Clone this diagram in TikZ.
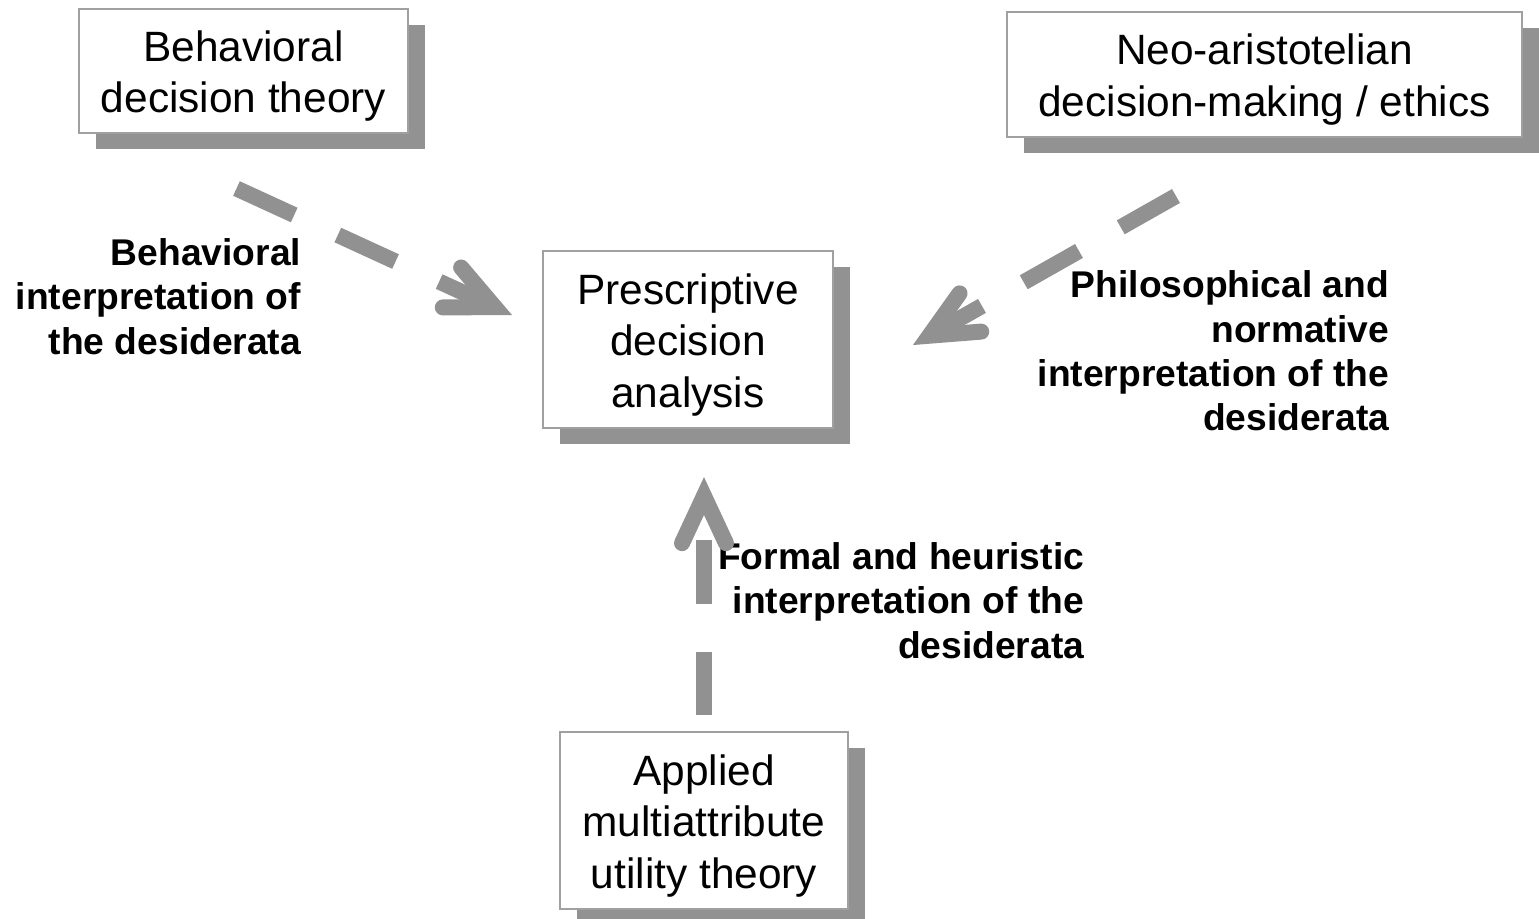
\documentclass[tikz,border=0pt]{standalone}
\usepackage{fontspec}
\setmainfont{Liberation Sans}
\usetikzlibrary{calc,shadows}
\definecolor{arrowgray}{HTML}{919191}
\definecolor{shadowgray}{HTML}{929292}
\definecolor{bordergray}{HTML}{A0A0A0}
\newcommand{\boxstrut}{\rule{0pt}{20.5pt}}
\tikzset{
  box/.style={draw=bordergray, line width=1pt, fill=white, inner sep=0pt, align=center,
    font=\fontsize{21.2pt}{25.75pt}\selectfont,
    drop shadow={shadow xshift=8.5pt, shadow yshift=-8pt, fill=shadowgray, opacity=1}},
  lbl/.style={inner sep=0pt, align=right, anchor=east,
    font=\fontsize{18.6pt}{22.2pt}\selectfont\bfseries},
  shaft/.style={draw=arrowgray, line width=8pt, dash pattern=on 31.75pt off 24pt, line cap=butt},
  head/.style={draw=arrowgray, line width=8pt, line cap=round, line join=miter}
}
\begin{document}
\begin{tikzpicture}[x=0.5pt, y=-0.5pt]
\useasboundingbox (0,0) rectangle (1539,918);

% boxes
\node[box, minimum width=164.5pt, minimum height=62pt] (bdt) at (243.5,71) {\boxstrut Behavioral\\decision theory};
\node[box, minimum width=257.5pt, minimum height=62.5pt] (neo) at (1264.5,74.5) {\boxstrut Neo-aristotelian\\decision-making / ethics};
\node[box, minimum width=145pt, minimum height=88.5pt] (pda) at (688,339.5) {\boxstrut Prescriptive\\decision\\analysis};
\node[box, minimum width=144pt, minimum height=88.5pt] (maut) at (704,820.5) {\boxstrut Applied\\multiattribute\\utility theory};

% labels
\node[lbl] (l1) at (301.5,296.5) {Behavioral\\interpretation of\\the desiderata};
\node[lbl] (l2) at (1389.5,351) {Philosophical and\\normative\\interpretation of the\\desiderata};
\node[lbl] (l3) at (1084.5,600.5) {Formal and heuristic\\interpretation of the\\desiderata};

% arrow end points
\coordinate (s1) at (236.5,188.5);
\coordinate (v1) at (494.8,307.1);
\coordinate (s2) at (1176,196);
\coordinate (v2) at (929.4,335.7);
\coordinate (s3) at (704,715);
\coordinate (v3) at (704,496);

% shafts
\draw[shaft] (s1) -- (v1);
\draw[shaft] (s2) -- (v2);
\draw[shaft] (s3) -- (v3);

% heads
\draw[head] ($(v1)!26pt!25:(s1)$) -- (v1) -- ($(v1)!26pt!-25:(s1)$);
\draw[head] ($(v2)!26pt!25:(s2)$) -- (v2) -- ($(v2)!26pt!-25:(s2)$);
\draw[head] ($(v3)!26pt!25:(s3)$) -- (v3) -- ($(v3)!26pt!-25:(s3)$);
\end{tikzpicture}
\end{document}
